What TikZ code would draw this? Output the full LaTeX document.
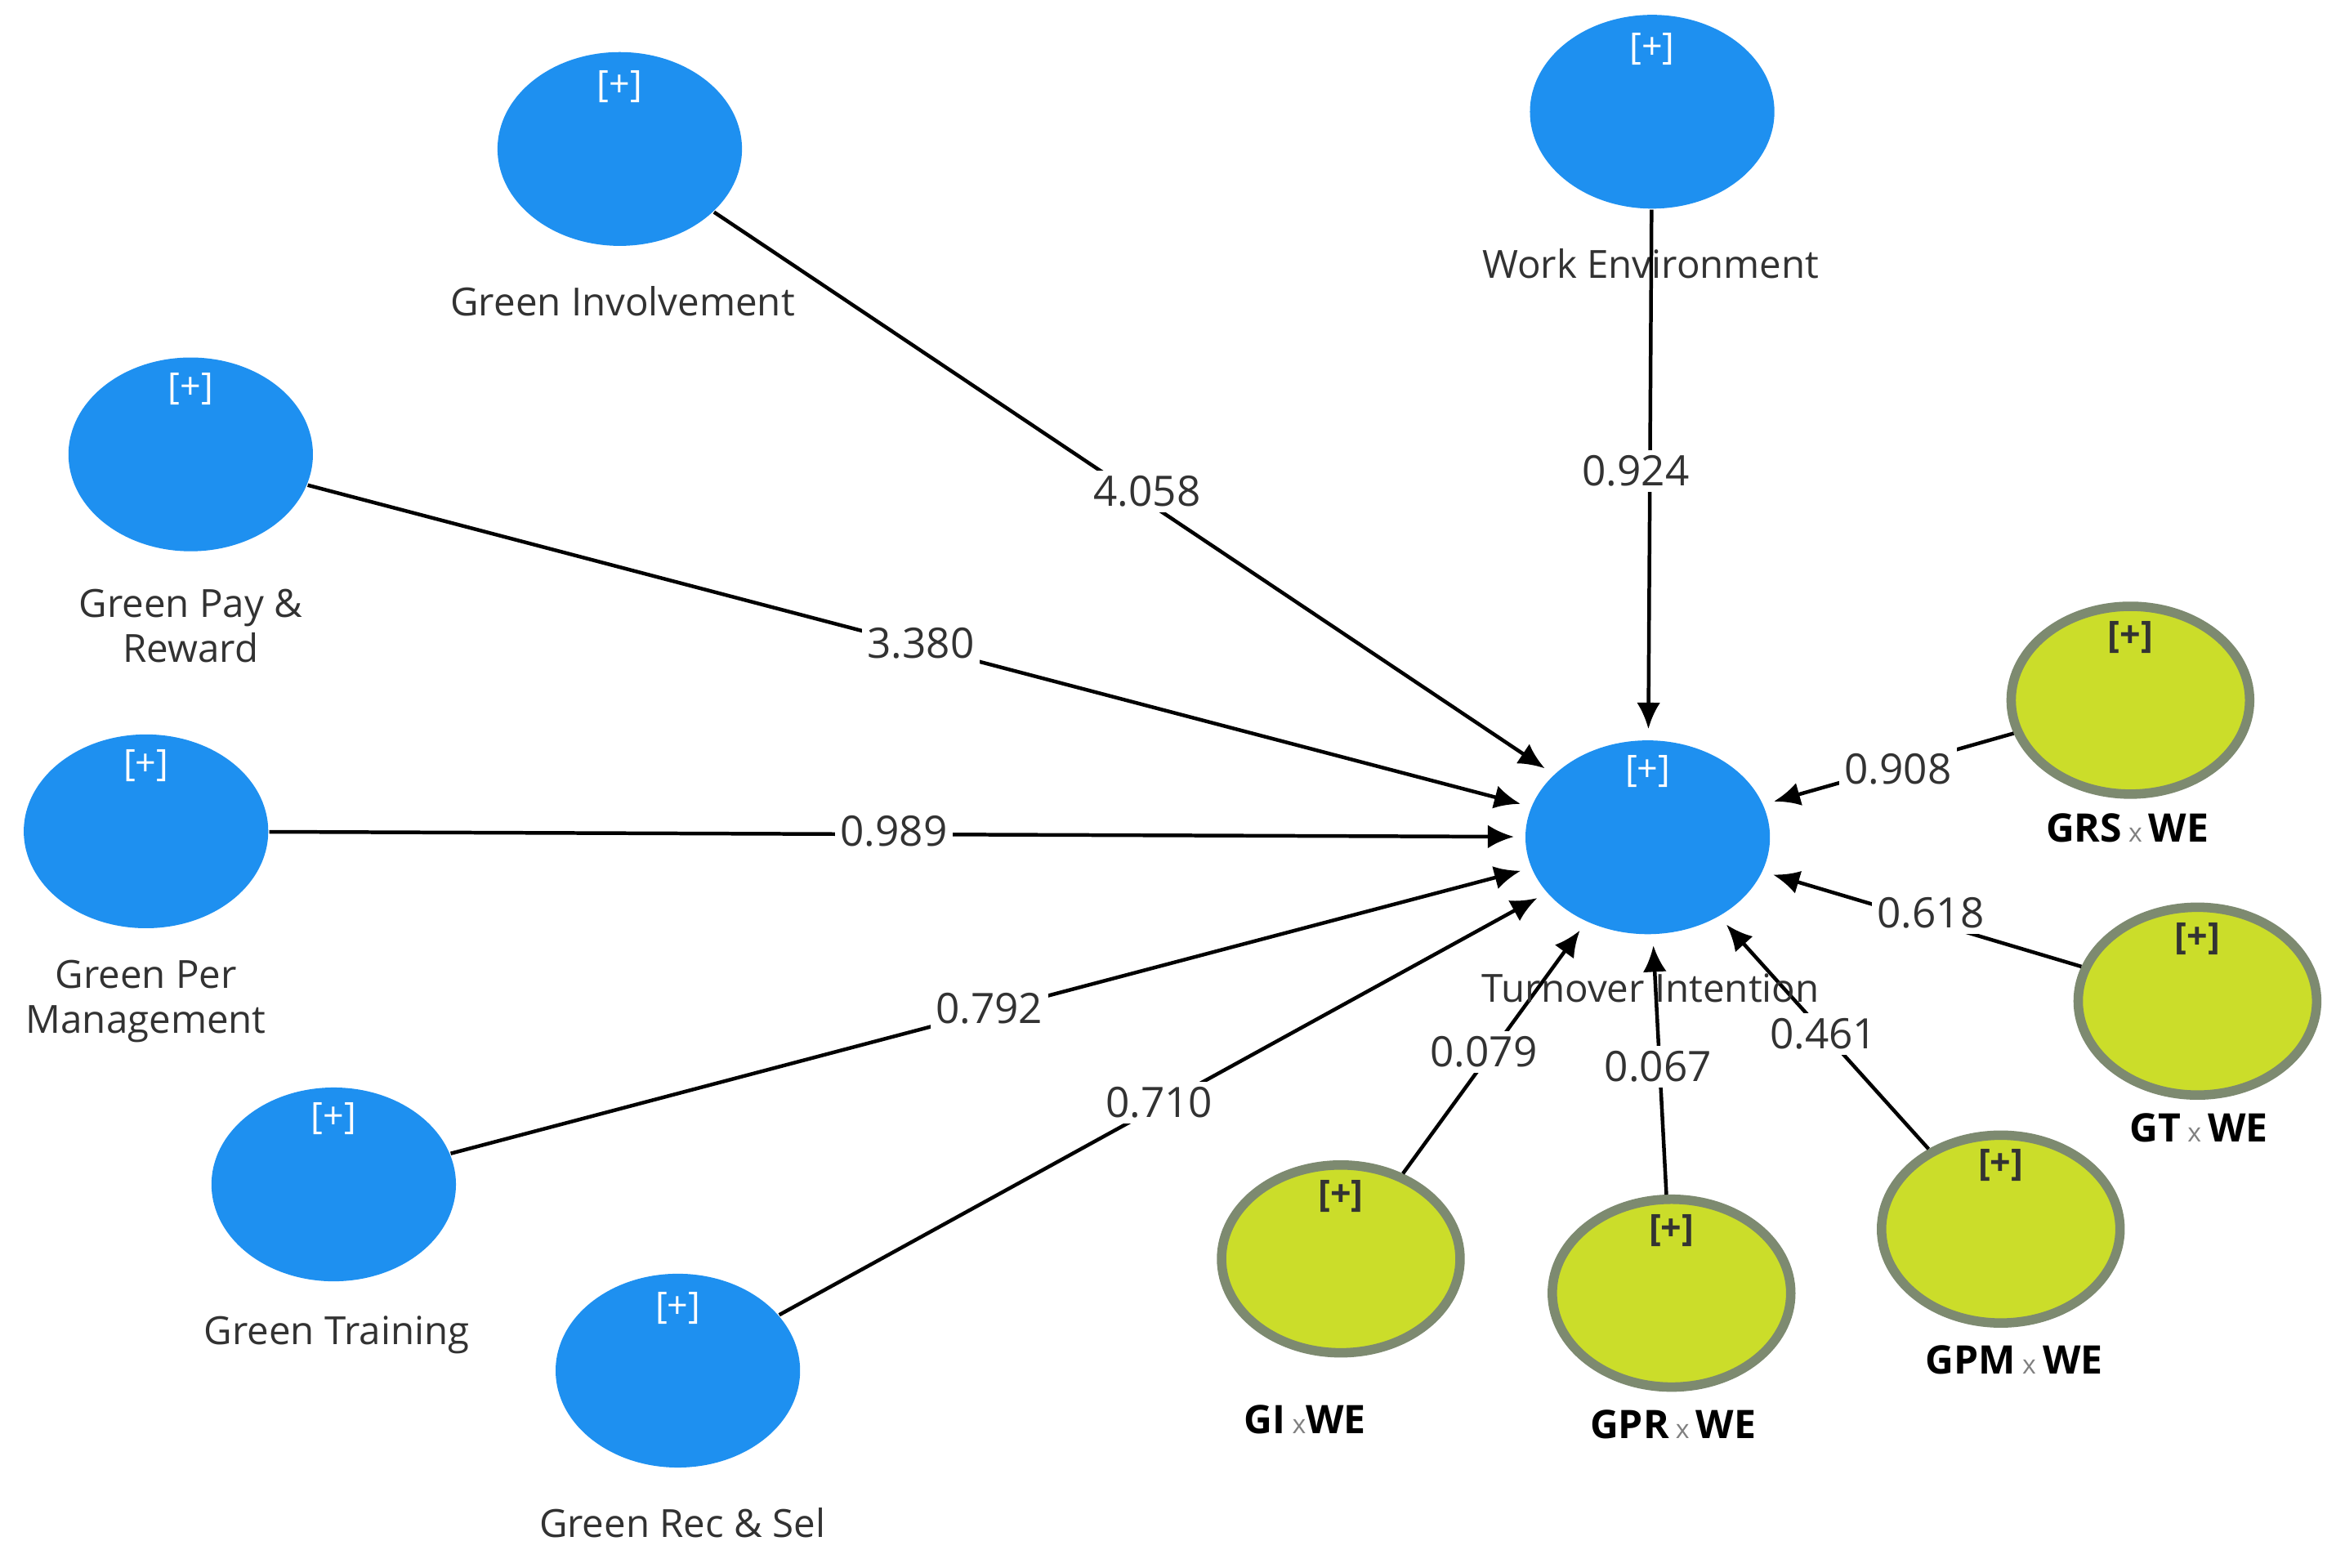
\documentclass[tikz,border=0pt]{standalone}
\usepackage{fontspec}
\setmainfont{Open Sans}
\usetikzlibrary{shapes.geometric,arrows.meta}
\definecolor{nblue}{RGB}{30,144,240}
\definecolor{ngreen}{RGB}{203,221,42}
\definecolor{ngray}{RGB}{125,138,112}
\definecolor{ltxt}{RGB}{50,50,50}
\begin{document}
\begin{tikzpicture}[x=0.01cm,y=-0.01cm,
 lv/.style={ellipse,fill=nblue,minimum width=1.64cm,minimum height=1.3cm,inner sep=0pt},
 iv/.style={ellipse,fill=ngreen,draw=ngray,line width=1.8pt,minimum width=1.6cm,minimum height=1.26cm,inner sep=0pt},
 plus/.style={text=white,font=\fontsize{7}{8}\selectfont},
 plusd/.style={text=black!80,font=\fontsize{7}{8}\selectfont\bfseries},
 lab/.style={text=ltxt,font=\fontsize{7.4}{8.5}\selectfont,align=center},
 ilab/.style={text=black,font=\fontsize{7.5}{9}\selectfont\bfseries},
 val/.style={fill=white,inner sep=1pt,text=ltxt,font=\fontsize{8}{9}\selectfont},
 arr/.style={-{Latex[length=5pt,width=4.5pt]},line width=0.7pt,shorten >=2pt}]
\useasboundingbox (0,0) rectangle (1568,1052);
\node[lv] (gi) at (416,100) {}; \node[plus] (gip) at (416,58) {[+]};
\node[lv] (we) at (1109,75) {}; \node[plus] (wep) at (1109,33) {[+]};
\node[lv] (gpr) at (128,305) {}; \node[plus] (gprp) at (128,261) {[+]};
\node[lv] (gpm) at (98,558) {}; \node[plus] (gpmp) at (98,514) {[+]};
\node[lv] (gt) at (224,795) {}; \node[plus] (gtp) at (224,751) {[+]};
\node[lv] (grs) at (455,920) {}; \node[plus] (grsp) at (455,878) {[+]};
\node[lv] (ti) at (1106,562) {}; \node[plus] (tip) at (1106,518) {[+]};
\node[iv] (grswe) at (1430,470) {}; \node[plusd] (p1) at (1430,428) {[+]};
\node[iv] (gtwe) at (1475,672) {}; \node[plusd] (p2) at (1475,630) {[+]};
\node[iv] (gpmwe) at (1343,825) {}; \node[plusd] (p3) at (1343,782) {[+]};
\node[iv] (giwe) at (900,845) {}; \node[plusd] (p4) at (900,803) {[+]};
\node[iv] (gprwe) at (1122,868) {}; \node[plusd] (p5) at (1122,826) {[+]};
\node[lab] (l1) at (418,202) {Green Involvement};
\node[lab] (l2) at (1108,177) {Work Environment};
\node[lab] (l3) at (128,420) {Green Pay \&\\Reward};
\node[lab] (l4) at (98,672) {Green Per\\Management};
\node[lab] (l5) at (226,896) {Green Training};
\node[lab] (l6) at (458,1022) {Green Rec \& Sel};
\node[ilab] (l8) at (1428,556) {GRS\,{\color{gray}\mdseries\tiny x}\,WE};
\node[ilab] (l9) at (1476,757) {GT\,{\color{gray}\mdseries\tiny x}\,WE};
\node[ilab] (l10) at (1352,913) {GPM\,{\color{gray}\mdseries\tiny x}\,WE};
\node[ilab] (l11) at (876,953) {GI\,{\color{gray}\mdseries\tiny x}WE};
\node[ilab] (l12) at (1123,956) {GPR\,{\color{gray}\mdseries\tiny x}\,WE};
\draw[arr] (gi) -- (ti);
\draw[arr] (we) -- (ti);
\draw[arr] (gpr) -- (ti);
\draw[arr] (gpm) -- (ti);
\draw[arr] (gt) -- (ti);
\draw[arr] (grs) -- (ti);
\draw[arr] (grswe) -- (ti);
\draw[arr] (gtwe) -- (ti);
\draw[arr] (gpmwe) -- (ti);
\draw[arr] (giwe) -- (ti);
\draw[arr] (gprwe) -- (ti);
\node[lab] (l7) at (1108,663) {Turnover Intention};
\node[val] (v1) at (770,330) {4.058};
\node[val] (v2) at (1098,316) {0.924};
\node[val] (v3) at (618,432) {3.380};
\node[val] (v4) at (600,558) {0.989};
\node[val] (v5) at (664,677) {0.792};
\node[val] (v6) at (778,740) {0.710};
\node[val] (v7) at (996,706) {0.079};
\node[val] (v8) at (1113,716) {0.067};
\node[val] (v9) at (1224,694) {0.461};
\node[val] (v10) at (1274,516) {0.908};
\node[val] (v11) at (1296,613) {0.618};
\end{tikzpicture}
\end{document}
